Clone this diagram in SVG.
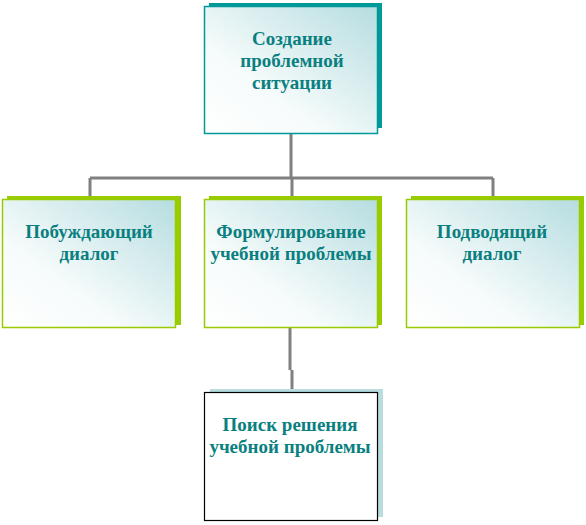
<svg xmlns="http://www.w3.org/2000/svg" width="586" height="525" viewBox="0 0 586 525">
<defs>
<linearGradient id="g" x1="0" y1="1" x2="1" y2="0">
<stop offset="0" stop-color="#ffffff"/>
<stop offset="0.35" stop-color="#f6fbfb"/>
<stop offset="1" stop-color="#b6dde0"/>
</linearGradient>
<style>
.t{font-family:'Liberation Serif','DejaVu Serif','Times New Roman',serif;font-weight:bold;font-size:19px;fill:#0a7f80;text-anchor:middle}
.c{stroke:#808080;stroke-width:3;fill:none}
.fg{fill:url(#g);stroke:#99cc00;stroke-width:1.5}
.sg{fill:#99cc00}
</style>
</defs>
<g id="connectors">
<path class="c" d="M291 134V178M90 178H493M90 178V196M292 178V196M493 178V196"/>
<path class="c" d="M290 328V370M292 370V389"/>
</g>
<g id="n1">
<rect x="209" y="3" width="173" height="125" fill="#009999"/>
<rect x="204.5" y="6.5" width="173" height="127" fill="url(#g)" stroke="#009999" stroke-width="1.5"/>
<text class="t" x="292" y="45">Создание</text>
<text class="t" x="292" y="67">проблемной</text>
<text class="t" x="292" y="89">ситуации</text>
</g>
<g id="n2">
<rect class="sg" x="7" y="196" width="174" height="129"/>
<rect class="fg" x="2.5" y="199.5" width="173" height="128"/>
<text class="t" x="89" y="238">Побуждающий</text>
<text class="t" x="89" y="260">диалог</text>
</g>
<g id="n3">
<rect class="sg" x="209" y="196" width="173" height="129"/>
<rect class="fg" x="204.5" y="199.5" width="173" height="128"/>
<text class="t" x="291" y="238">Формулирование</text>
<text class="t" x="291" y="260">учебной проблемы</text>
</g>
<g id="n4">
<rect class="sg" x="411" y="196" width="173" height="129"/>
<rect class="fg" x="406.5" y="199.5" width="173" height="128"/>
<text class="t" x="492" y="238">Подводящий</text>
<text class="t" x="492" y="260">диалог</text>
</g>
<g id="n5">
<rect x="210" y="389" width="173" height="128" fill="#b8dde0"/>
<rect x="204.5" y="392.5" width="173" height="128" fill="#ffffff" stroke="#000000" stroke-width="1.2"/>
<text class="t" x="290" y="431">Поиск решения</text>
<text class="t" x="290" y="453">учебной проблемы</text>
</g>
</svg>
